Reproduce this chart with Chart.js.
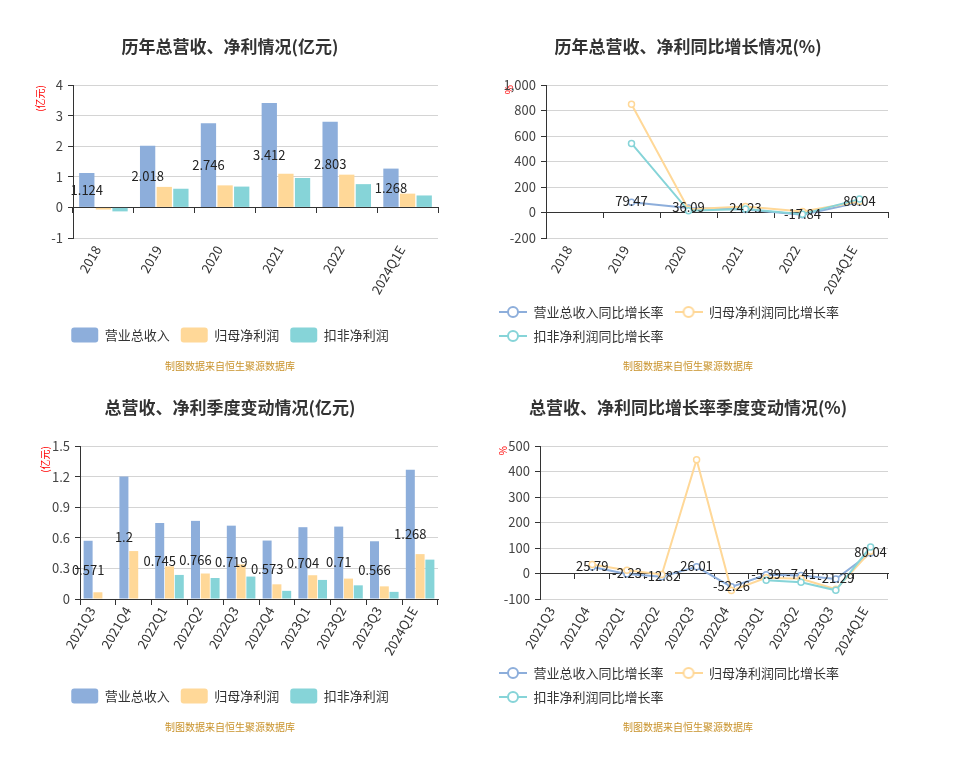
<!DOCTYPE html>
<html>
<head>
<meta charset="utf-8">
<title>营收与净利情况</title>
<script src="https://cdn.jsdelivr.net/npm/chart.js@4.4.0/dist/chart.umd.min.js"></script>
<style>
  body { margin: 0; background: #fff; }
  #wrap { position: relative; width: 961px; height: 757px; overflow: hidden; }
  canvas { position: absolute; }
</style>
</head>
<body>
<div id="wrap">
  <canvas id="yearBar" width="448" height="390" style="left:0;top:0"></canvas>
  <canvas id="yearLine" width="430" height="390" style="left:470px;top:0"></canvas>
  <canvas id="quarterBar" width="448" height="390" style="left:0;top:361px"></canvas>
  <canvas id="quarterLine" width="430" height="390" style="left:470px;top:361px"></canvas>
</div>
<script>
// yearly data (亿元)
const yearLabels = ['2018', '2019', '2020', '2021', '2022', '2024Q1E'];
const yearRevenue = [1.124, 2.018, 2.746, 3.412, 2.803, 1.268];
const yearNetProfit = [-0.07, 0.67, 0.72, 1.10, 1.07, 0.45];
const yearDeductedProfit = [-0.13, 0.61, 0.68, 0.96, 0.76, 0.39];

// yearly growth (%)
const yearRevenueYoy = [null, 79.47, 36.09, 24.23, -17.84, 80.04];
const yearNetProfitYoy = [null, 849, 25, 47, 8, 86];
const yearDeductedYoy = [null, 542, 13, 27, -13, 105];

// quarterly data (亿元)
const quarterLabels = ['2021Q3', '2021Q4', '2022Q1', '2022Q2', '2022Q3', '2022Q4', '2023Q1', '2023Q2', '2023Q3', '2024Q1E'];
const quarterRevenue = [0.571, 1.2, 0.745, 0.766, 0.719, 0.573, 0.704, 0.71, 0.566, 1.268];
const quarterNetProfit = [0.066, 0.47, 0.32, 0.25, 0.34, 0.144, 0.233, 0.20, 0.124, 0.44];
const quarterDeductedProfit = [null, null, 0.236, 0.206, 0.22, 0.08, 0.187, 0.134, 0.07, 0.386];

// quarterly growth (%)
const quarterRevenueYoy = [null, 25.79, -2.23, -12.82, 26.01, -52.26, -5.39, -7.41, -21.29, 80.04];
const quarterNetProfitYoy = [null, 35, 13, -4, 446, -67, -17, -21, -62, 87];
const quarterDeductedYoy = [null, null, null, null, null, null, -26, -34, -66, 104];

const FONT = "'Noto Sans CJK SC', 'Noto Sans', sans-serif";
const BLUE = '#8daedb';
const ORANGE = '#ffd898';
const TEAL = '#86d4d8';
const LINE_COLORS = [BLUE, ORANGE, TEAL];
const SOURCE_TEXT = '制图数据来自恒生聚源数据库';

Chart.defaults.font.family = FONT;
Chart.defaults.color = '#333';

// value labels on the first series (bars: middle of bar, lines: on the point)
const valueLabels = {
  id: 'valueLabels',
  afterDatasetsDraw(chart) {
    const ctx = chart.ctx;
    const meta = chart.getDatasetMeta(0);
    const values = chart.data.datasets[0].data;
    ctx.save();
    ctx.font = '13px ' + FONT;
    ctx.fillStyle = '#222';
    ctx.textAlign = 'center';
    ctx.textBaseline = 'middle';
    meta.data.forEach((el, i) => {
      if (values[i] === null) return;
      const y = meta.type === 'bar' ? (el.y + el.base) / 2 : el.y - 1;
      ctx.fillText(String(values[i]), el.x, y);
    });
    ctx.restore();
  }
};

// legend icon: short line with a hollow circle
function lineIcon(color) {
  const c = document.createElement('canvas');
  c.width = 28;
  c.height = 14;
  const g = c.getContext('2d');
  g.strokeStyle = color;
  g.lineWidth = 2;
  g.beginPath();
  g.moveTo(0, 7);
  g.lineTo(28, 7);
  g.stroke();
  g.fillStyle = '#fff';
  g.beginPath();
  g.arc(14, 7, 5, 0, Math.PI * 2);
  g.fill();
  g.stroke();
  return c;
}

function yAxis(opts) {
  return {
    min: opts.min,
    max: opts.max,
    ticks: { stepSize: opts.step, color: '#444', font: { size: 13 }, padding: 5 },
    grid: {
      color: ctx => (ctx.tick && ctx.tick.value === 0 ? '#333' : '#d4d4d4'),
      tickLength: 5,
      tickColor: '#333'
    },
    border: { color: '#333' },
    title: {
      display: true,
      text: opts.unit,
      color: '#f00',
      font: { size: 10 },
      align: 'end',
      padding: { top: opts.unitPad, bottom: 0 }
    },
    afterFit: scale => { scale.width = opts.width; }
  };
}

// labels at the bottom, axis line + ticks on the zero line
function xAxes(labelHeight) {
  return {
    x: {
      offset: true,
      grid: { display: false, drawTicks: false },
      border: { display: false },
      ticks: {
        color: '#333', font: { size: 13 }, autoSkip: false,
        minRotation: 60, maxRotation: 60, padding: 5, labelOffset: -6
      },
      afterFit: scale => { scale.height = labelHeight; }
    },
    xZero: {
      axis: 'x',
      type: 'category',
      position: { y: 0 },
      offset: true,
      grid: { offset: true, drawOnChartArea: false, tickLength: 5, tickColor: '#333' },
      border: { color: '#333' },
      ticks: { display: false }
    }
  };
}

function commonPlugins(title, legend) {
  return {
    title: {
      display: true, text: title, color: '#333',
      font: { size: 17, weight: 'bold' },
      padding: { top: 36.8, bottom: 27.8 }
    },
    subtitle: {
      display: true, text: SOURCE_TEXT, position: 'bottom', color: '#c8922a',
      font: { size: 10 }, padding: { top: 7.5, bottom: 0 }
    },
    legend: legend,
    tooltip: { enabled: false }
  };
}

function barChart(id, title, labels, revenue, netProfit, deducted, y) {
  return new Chart(document.getElementById(id), {
    type: 'bar',
    data: {
      labels: labels,
      datasets: [
        { label: '营业总收入', data: revenue, backgroundColor: BLUE, xAxisID: 'x' },
        { label: '归母净利润', data: netProfit, backgroundColor: ORANGE, xAxisID: 'x' },
        { label: '扣非净利润', data: deducted, backgroundColor: TEAL, xAxisID: 'x' }
      ]
    },
    options: {
      responsive: false,
      animation: false,
      layout: { padding: { left: 22, right: 10, top: 0, bottom: 18 } },
      datasets: { bar: { categoryPercentage: 0.82, barPercentage: 0.92, borderWidth: 0 } },
      plugins: commonPlugins(title, {
        position: 'bottom',
        labels: {
          boxWidth: 27, boxHeight: 15, useBorderRadius: true, borderRadius: 3,
          padding: 11, color: '#333', font: { size: 13 }
        }
      }),
      scales: Object.assign(xAxes(78.5), { y: yAxis(y) })
    },
    plugins: [valueLabels]
  });
}

function lineChart(id, title, labels, revenue, netProfit, deducted, y) {
  const series = [
    { label: '营业总收入同比增长率', data: revenue, order: 3 },
    { label: '归母净利润同比增长率', data: netProfit, order: 2 },
    { label: '扣非净利润同比增长率', data: deducted, order: 1 }
  ];
  series.forEach((s, i) => {
    s.borderColor = LINE_COLORS[i];
    s.pointBorderColor = LINE_COLORS[i];
    s.xAxisID = 'x';
  });
  return new Chart(document.getElementById(id), {
    type: 'line',
    data: { labels: labels, datasets: series },
    options: {
      responsive: false,
      animation: false,
      layout: { padding: { left: 18, right: 12, top: 0, bottom: 18 } },
      datasets: {
        line: { borderWidth: 2, pointRadius: 3, pointBorderWidth: 1.5, pointBackgroundColor: '#fff', tension: 0 }
      },
      plugins: commonPlugins(title, {
        position: 'bottom',
        align: 'start',
        labels: {
          usePointStyle: true, pointStyleWidth: 28, padding: 11,
          color: '#333', font: { size: 13 },
          sort: (a, b) => a.datasetIndex - b.datasetIndex,
          generateLabels: chart => Chart.defaults.plugins.legend.labels.generateLabels(chart).map(item => {
            item.pointStyle = lineIcon(LINE_COLORS[item.datasetIndex]);
            return item;
          })
        }
      }),
      scales: Object.assign(xAxes(56.5), { y: yAxis(y) })
    },
    plugins: [valueLabels]
  });
}

barChart('yearBar', '历年总营收、净利情况(亿元)', yearLabels,
  yearRevenue, yearNetProfit, yearDeductedProfit,
  { min: -1, max: 4, step: 1, unit: '(亿元)', unitPad: 12, width: 51 });

lineChart('yearLine', '历年总营收、净利同比增长情况(%)', yearLabels,
  yearRevenueYoy, yearNetProfitYoy, yearDeductedYoy,
  { min: -200, max: 1000, step: 200, unit: '%', unitPad: 15, width: 58 });

barChart('quarterBar', '总营收、净利季度变动情况(亿元)', quarterLabels,
  quarterRevenue, quarterNetProfit, quarterDeductedProfit,
  { min: 0, max: 1.5, step: 0.3, unit: '(亿元)', unitPad: 17, width: 58 });

lineChart('quarterLine', '总营收、净利同比增长率季度变动情况(%)', quarterLabels,
  quarterRevenueYoy, quarterNetProfitYoy, quarterDeductedYoy,
  { min: -100, max: 500, step: 100, unit: '%', unitPad: 9, width: 52 });
</script>
</body>
</html>
